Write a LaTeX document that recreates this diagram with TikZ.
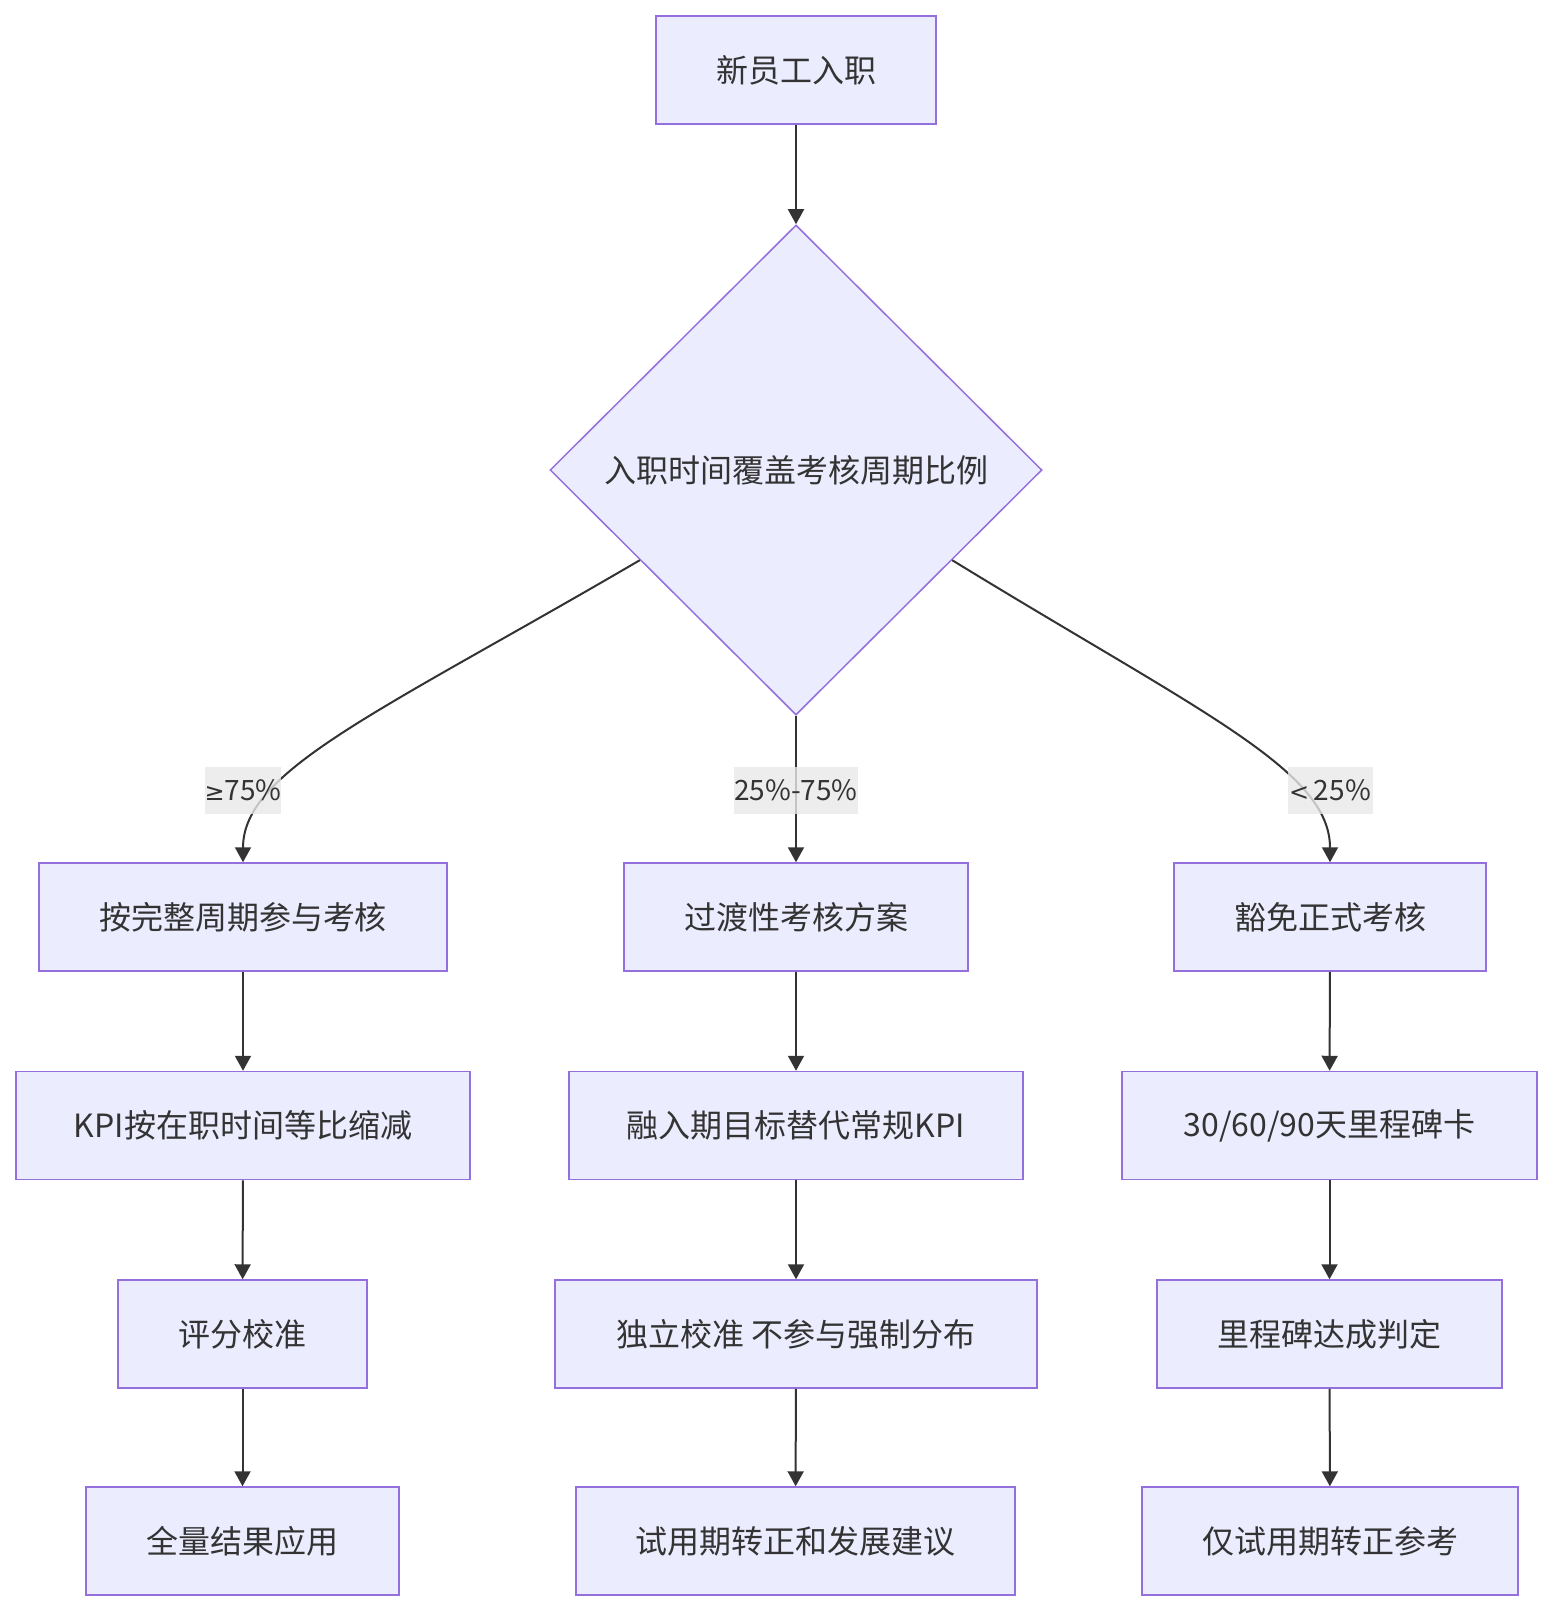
\documentclass[tikz,border=0pt]{standalone}
\usepackage{fontspec}
\setmainfont{Noto Sans CJK SC}
\newfontfamily\symfont{DejaVu Sans}
\usetikzlibrary{shapes.geometric,arrows.meta}
\definecolor{nfill}{HTML}{ECECFF}
\definecolor{nline}{HTML}{9370DB}
\definecolor{eline}{HTML}{333333}
\definecolor{lblbg}{HTML}{E8E8E8}
\tikzset{
  box/.style={draw=nline, fill=nfill, line width=1.5pt, minimum height=108pt, inner sep=0pt, text=eline, font=\fontsize{32}{36}\selectfont},
  dec/.style={draw=nline, fill=nfill, line width=1.5pt, diamond, minimum width=492pt, minimum height=490pt, inner sep=0pt, text=eline, font=\fontsize{32}{36}\selectfont},
  edge/.style={draw=eline, line width=2pt, -{Triangle[length=15pt,width=16pt]}},
  lbl/.style={fill=lblbg, fill opacity=0.8, text opacity=1, text=eline, inner sep=0pt, minimum height=47pt, font=\fontsize{28}{32}\selectfont}
}
\begin{document}
\begin{tikzpicture}[x=1pt,y=-1pt]
\useasboundingbox (0,0) rectangle (1552,1612);
\node[box, minimum width=280pt] (start) at (796,70) {新员工入职};
\node[dec] (dia) at (796,470) {入职时间覆盖考核周期比例};
\node[box, minimum width=408pt] (a1) at (243,917) {按完整周期参与考核};
\node[box, minimum width=344pt] (b1) at (796,917) {过渡性考核方案};
\node[box, minimum width=312pt] (c1) at (1330,917) {豁免正式考核};
\node[box, minimum width=454pt] (a2) at (243,1125.5) {KPI按在职时间等比缩减};
\node[box, minimum width=454pt] (b2) at (796,1125.5) {融入期目标替代常规KPI};
\node[box, minimum width=415pt] (c2) at (1329.5,1125.5) {30/60/90天里程碑卡};
\node[box, minimum width=249pt] (a3) at (242.5,1334) {评分校准};
\node[box, minimum width=482pt] (b3) at (796,1334) {独立校准 不参与强制分布};
\node[box, minimum width=345pt] (c3) at (1329.5,1334) {里程碑达成判定};
\node[box, minimum width=313pt] (a4) at (242.5,1541) {全量结果应用};
\node[box, minimum width=439pt] (b4) at (795.5,1541) {试用期转正和发展建议};
\node[box, minimum width=376pt] (c4) at (1330,1541) {仅试用期转正参考};
\draw[edge] (start) -- (dia);
\draw[edge] (dia.210) .. controls (380,712) and (243,770) .. (a1.north);
\draw[edge] (dia) -- (b1);
\draw[edge] (dia.-30) .. controls (1200,712) and (1330,770) .. (c1.north);
\foreach \p/\q in {a1/a2,a2/a3,a3/a4,b1/b2,b2/b3,b3/b4,c1/c2,c2/c3,c3/c4}
  \draw[edge] (\p) -- (\q);
\node[lbl, minimum width=70pt] (l1) at (243,790) {{\symfont\fontsize{24}{30}\selectfont ≥}75\%};
\node[lbl, minimum width=118pt] (l2) at (796,790) {25\%-75\%};
\node[lbl, minimum width=85pt] (l3) at (1330,790) {{\symfont\fontsize{24}{30}\selectfont <}\,25\%};
\end{tikzpicture}
\end{document}
